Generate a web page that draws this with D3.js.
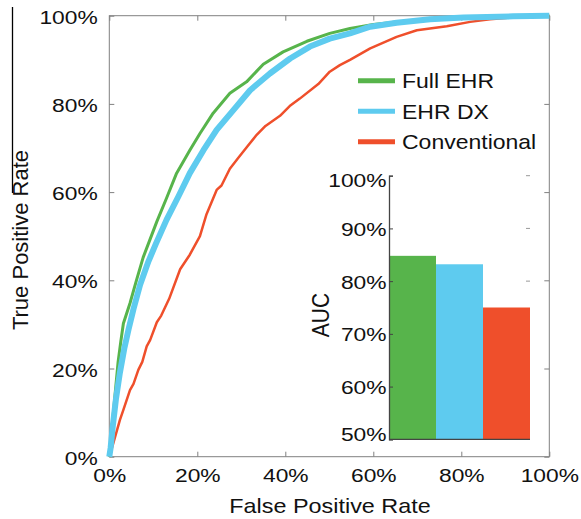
<!DOCTYPE html>
<html>
<head>
<meta charset="utf-8">
<script src="https://cdn.jsdelivr.net/npm/d3@7"></script>
<style>
html,body{margin:0;padding:0;background:#fff;}
text{font-family:"Liberation Sans",Arial,Helvetica,sans-serif;fill:#111;}
</style>
</head>
<body>
<svg id="chart" width="581" height="519"></svg>
<script>
// ---------- data ----------
const seriesNames = ["Full EHR", "EHR DX", "Conventional"];
const seriesColors = ["#57b44b", "#5ecbef", "#ef4f2b"];

const fullEhrFpr = [0,0.5,1.3,2.0,2.6,3.2,4.7,6.2,7.7,9.0,10.8,13.0,15.3,18.3,20.6,23.6,27.4,31.2,35.0,39.5,44.9,50.1,54.7,60.0,65.3,72.9,80.5,91.8,100];
const fullEhrTpr = [0,5.3,14.0,21.5,26.0,30.2,34.8,40.1,45.2,48.6,53.3,58.6,64.3,69.5,73.3,77.9,82.4,85.0,89.0,91.8,94.2,96.0,97.1,98.0,98.6,99.2,99.6,99.9,100];

const ehrDxFpr = [0,0.3,0.8,1.5,2.4,3.4,4.4,5.5,7.0,8.9,10.6,13.0,15.7,18.3,21.4,24.4,28.2,32.0,36.5,41.1,45.6,50.1,54.7,59.3,65.3,72.9,80.5,91.8,100];
const ehrDxTpr = [0,2.0,7.0,13.0,19.0,24.5,29.0,33.5,39.0,44.3,48.3,53.7,59.0,64.3,69.5,74.1,78.6,83.1,86.9,90.3,93.0,94.8,96.0,97.5,98.4,99.2,99.6,99.85,100];

const convFpr = [0,0.3,0.9,2.4,3.2,4.7,5.5,6.6,7.5,8.5,9.3,10.8,11.8,13.6,16.1,18.3,20.6,22.1,24.4,25.5,27.4,29.2,31.5,33.5,35.5,38.8,41.0,43.3,47.5,50.1,52.4,54.7,59.3,65.3,69.9,76.7,82.0,86.5,90.0,95.0,100];
const convTpr = [0,1.0,3.0,8.3,10.6,15.1,16.5,19.7,21.5,25.0,26.5,30.5,32.0,35.8,42.5,45.8,50.0,55.0,60.5,61.5,65.3,67.6,70.5,73.0,75.0,77.3,79.5,81.2,84.5,87.3,88.8,90.0,92.6,95.2,96.7,97.6,98.6,99.2,99.5,99.9,100];

const aucValues = [84.8, 83.2, 75.0];

const xTicks = [0,20,40,60,80,100];
const yTicks = [0,20,40,60,80,100];
const aucTicks = [50,60,70,80,90,100];

// ---------- layout ----------
const svg = d3.select("#chart");
const FS = 19, SX = 1.2;
const x = d3.scaleLinear().domain([0,100]).range([109.3, 549.3]);
const y = d3.scaleLinear().domain([0,100]).range([456.7, 15.7]);
const frameColor = "#808080";

function txt(g, s, tx, ty, anchor, size, sx, rot) {
  return g.append("text")
    .attr("transform", `translate(${tx},${ty}) scale(${sx},1)` + (rot ? ` rotate(${rot})` : ""))
    .attr("text-anchor", anchor)
    .style("font-size", size + "px")
    .text(s);
}

// stray left rule in the reference
svg.append("line").attr("x1",12.5).attr("x2",12.5).attr("y1",7).attr("y2",193)
  .attr("stroke","#000").attr("stroke-width",1.3);

// axes (ticks inward)
const gB = svg.append("g").attr("transform",`translate(0,${y(0)})`)
  .call(d3.axisBottom(x).tickValues(xTicks).tickSize(-5).tickFormat(d => d + "%"));
const gL = svg.append("g").attr("transform",`translate(${x(0)},0)`)
  .call(d3.axisLeft(y).tickValues(yTicks).tickSize(-5).tickFormat(d => d + "%"));
const gT = svg.append("g").attr("transform",`translate(0,${y(100)})`)
  .call(d3.axisTop(x).tickValues(xTicks).tickSize(-5).tickFormat(""));
const gR = svg.append("g").attr("transform",`translate(${x(100)},0)`)
  .call(d3.axisRight(y).tickValues(yTicks).tickSize(-5).tickFormat(""));
[gB,gL,gT,gR].forEach(g => {
  g.select(".domain").remove();
  g.selectAll(".tick line").attr("stroke", frameColor);
  g.attr("font-family", null).attr("font-size", null);
});
gB.selectAll(".tick text").attr("y",0).attr("dy",0).attr("fill","#111")
  .style("font-size", FS+"px")
  .attr("transform", `translate(0,25) scale(${SX},1)`);
gL.selectAll(".tick text").attr("x",0).attr("dy",0).attr("fill","#111")
  .style("font-size", FS+"px")
  .attr("transform", `translate(-11.6,7.5) scale(${SX},1)`);

svg.append("rect").attr("x",x(0)).attr("y",y(100))
  .attr("width",x(100)-x(0)).attr("height",y(0)-y(100))
  .attr("fill","none").attr("stroke",frameColor).attr("stroke-width",1);

// ROC curves
const curves = [
  {fpr: fullEhrFpr, tpr: fullEhrTpr, w: 3},
  {fpr: ehrDxFpr, tpr: ehrDxTpr, w: 6},
  {fpr: convFpr, tpr: convTpr, w: 2.5}
];
const line = d3.line().x(d => x(d[0])).y(d => y(d[1]));
// draw order: conventional, full, dx on top? reference shows blue over green
[2,0,1].forEach(i => {
  const c = curves[i];
  svg.append("path")
    .datum(c.fpr.map((v,k) => [v, c.tpr[k]]))
    .attr("d", line)
    .attr("fill","none")
    .attr("stroke", seriesColors[i])
    .attr("stroke-width", c.w)
    .attr("stroke-linejoin","round");
});

// axis titles
txt(svg, "False Positive Rate", 330, 513.3, "middle", 20, 1.17);
txt(svg, "True Positive Rate", 27.5, 240, "middle", 22, 1.0, -90);

// legend
const legend = svg.append("g");
seriesNames.forEach((n,i) => {
  const ly = 80.7 + i*30.5;
  legend.append("line").attr("x1",358).attr("x2",395).attr("y1",ly).attr("y2",ly)
    .attr("stroke", seriesColors[i]).attr("stroke-width",5);
  txt(legend, n, 402, ly + 7.5, "start", 20, 1.15);
});

// inset AUC bar chart
const ix = d3.scaleBand().domain(seriesNames).range([389, 530]).padding(0);
const iy = d3.scaleLinear().domain([50,100]).range([439.3, 175.7]);
const inset = svg.append("g");
// right-side ticks (no line)
aucTicks.forEach(t => {
  inset.append("line").attr("x1",526).attr("x2",530).attr("y1",iy(t)).attr("y2",iy(t))
    .attr("stroke","#999").attr("stroke-width",1);
});
inset.selectAll("rect.bar").data(aucValues).enter().append("rect")
  .attr("class","bar")
  .attr("x",(d,i) => ix(seriesNames[i]))
  .attr("y", d => iy(d))
  .attr("width", ix.bandwidth())
  .attr("height", d => iy(50) - iy(d))
  .attr("fill", (d,i) => seriesColors[i]);
const gIL = inset.append("g").attr("transform",`translate(389,0)`)
  .call(d3.axisLeft(iy).tickValues(aucTicks).tickSize(-4).tickFormat(d => d + "%"));
gIL.attr("font-family", null).attr("font-size", null);
gIL.select(".domain").attr("stroke","#444").attr("stroke-width",1.3);
gIL.selectAll(".tick line").attr("stroke","#444");
gIL.selectAll(".tick text").each(function(d) {
  const ty = iy(d);
  const c = Math.max(179.2, Math.min(433.3, ty));
  d3.select(this).attr("x",0).attr("dy",0).attr("fill","#111")
    .style("font-size", FS+"px")
    .attr("transform", `translate(-2.5,${c - ty + 7}) scale(${SX},1)`);
});
inset.append("line").attr("x1",389).attr("x2",530).attr("y1",iy(50)).attr("y2",iy(50))
  .attr("stroke","#444").attr("stroke-width",1.3);
txt(inset, "AUC", 329, 315, "middle", 21, 1.1, -90);
</script>
</body>
</html>
